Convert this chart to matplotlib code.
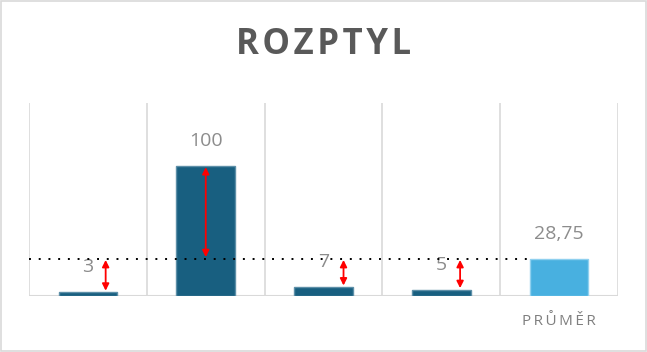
import matplotlib.pyplot as plt
from matplotlib.patches import Rectangle

# Данные
categories = ['', '', '', '', 'PRŮMĚR']
values = [3, 100, 7, 5, 28.75]
value_labels = ['3', '100', '7', '5', '28,75']
mean_value = 28.75

colors = ['#185f80', '#185f80', '#185f80', '#185f80', '#48b0e0']
edge_colors = ['#5d8fa8', '#5d8fa8', '#5d8fa8', '#5d8fa8', '#8fd0ef']
arrow_shift = [0.15, 0, 0.17, 0.16]  # смещение стрелок от центра столбца

plt.rcParams['font.family'] = ['Open Sans', 'DejaVu Sans']

fig = plt.figure(figsize=(6.47, 3.52), dpi=100)
ax = fig.add_axes([0.045, 0.159, 0.91, 0.548])

x = range(len(values))
ax.bar(x, values, width=0.5, color=colors, edgecolor=edge_colors, linewidth=1, zorder=3)

ax.set_xlim(-0.5, len(values) - 0.5)
ax.set_ylim(0, 148)

# вертикальная сетка между категориями
for b in range(len(values) + 1):
    ax.axvline(b - 0.5, color='#d9d9d9', linewidth=1.2, zorder=1)
ax.axhline(0, color='#d9d9d9', linewidth=1.5, zorder=2)

# подписи значений
for i, (v, lab) in enumerate(zip(values, value_labels)):
    ax.annotate(lab, (i, v), xytext=(0, 18), textcoords='offset points',
                ha='center', va='center', fontsize=14, color='#8c8c8c', zorder=4)

# средняя линия
ax.plot([-0.5, len(values) - 1.25], [mean_value, mean_value], color='black',
        linestyle=(0, (1, 4)), linewidth=1.4, zorder=5)

# стрелки отклонений
for i, v in enumerate(values[:-1]):
    xa = i + arrow_shift[i]
    ax.annotate('', xy=(xa, v), xytext=(xa, mean_value),
                arrowprops=dict(arrowstyle='<|-|>', color='red', lw=1.3,
                                mutation_scale=10, shrinkA=1, shrinkB=1), zorder=6)

ax.set_xticks(list(x))
ax.set_xticklabels(['\u2009'.join(c) for c in categories], fontsize=11, color='#7f7f7f')
ax.tick_params(axis='x', length=0, pad=13)
ax.set_yticks([])
for s in ax.spines.values():
    s.set_visible(False)

fig.text(0.5, 0.872, '\u200a'.join('ROZPTYL'), ha='center', va='center',
         fontsize=25, fontweight='bold', color='#595959')

# рамка диаграммы
fig.patches.append(Rectangle((0.001, 0.002), 0.997, 0.995, transform=fig.transFigure,
                             fill=False, edgecolor='#d9d9d9', linewidth=1.2))

plt.savefig('out.png', dpi=100)
